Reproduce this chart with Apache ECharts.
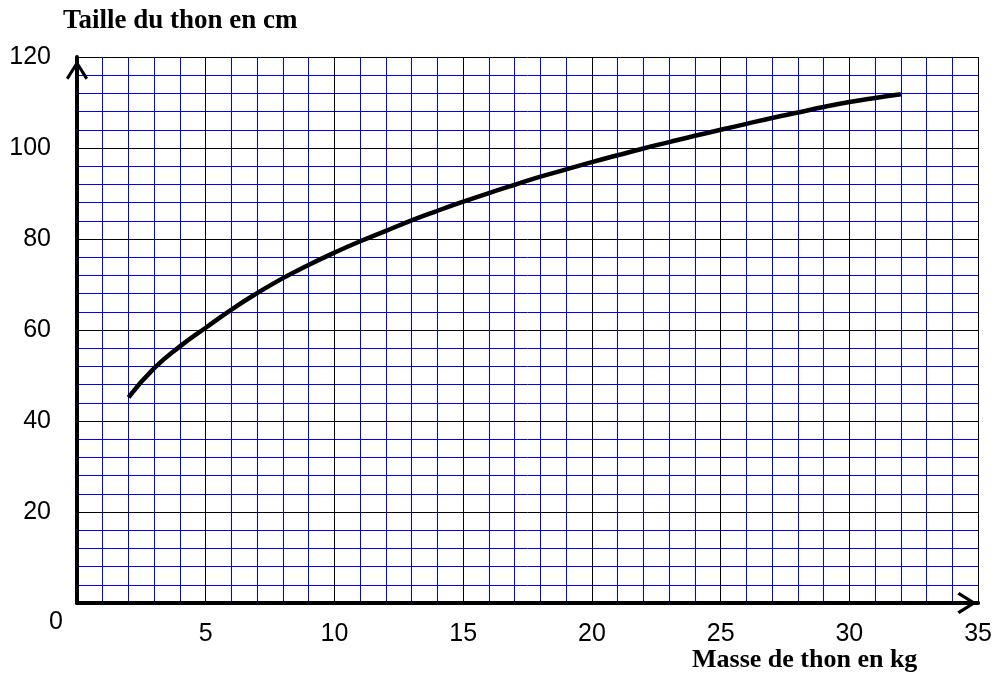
<!DOCTYPE html>
<html>
<head>
<meta charset="utf-8">
<script src="https://cdn.jsdelivr.net/npm/echarts@6/dist/echarts.min.js"></script>
<style>
  html, body { margin: 0; padding: 0; background: #fff; }
  #chart { width: 995px; height: 679px; }
</style>
</head>
<body>
<div id="chart"></div>
<script>
// masse du thon (kg) et taille (cm)
const masses = [2, 3, 4, 5, 6, 7, 8, 9, 10, 11, 12, 13, 14, 15, 16, 17, 18, 19, 20, 21, 22, 23, 24, 25, 26, 27, 28, 29, 30, 31, 32]
const tailles = [45.2, 51.6, 56.4, 60.5, 64.5, 68.1, 71.4, 74.3, 77.0, 79.5, 81.8, 84.1, 86.2, 88.2, 90.1, 91.9, 93.7, 95.3, 96.9, 98.4, 99.9, 101.3, 102.7, 104.0, 105.3, 106.6, 107.8, 109.0, 110.1, 111.0, 111.8]
const xTicks = [5, 10, 15, 20, 25, 30, 35]
const yTicks = [20, 40, 60, 80, 100, 120]

const chevron = 'path://M0,17.5 L11,0 L22,17.5 L19.6,19.6 L11,5.8 L2.4,19.6 Z'
const numFont = '25px "Liberation Sans", Arial, sans-serif'
// une ligne noire toutes les 5 lignes, les autres en bleu
const gridColors = ['#000000', '#0000ff', '#0000ff', '#0000ff', '#0000ff']

let points = []
for (let i = 0; i < masses.length; i++) {
  points.push([masses[i], tailles[i]])
}

const chart = echarts.init(document.getElementById('chart'))
const option = {
  animation: false,
  grid: { left: 77, right: 16, top: 57, bottom: 76 },
  xAxis: {
    type: 'value',
    min: 0,
    max: 35,
    interval: 1,
    axisLine: {
      show: true,
      symbol: ['none', chevron],
      symbolSize: [22, 22],
      symbolOffset: [0, -11],
      lineStyle: { color: '#000', width: 4 }
    },
    axisTick: { show: false },
    axisLabel: {
      margin: 19,
      fontSize: 25,
      fontFamily: '"Liberation Sans", Arial, sans-serif',
      color: '#000',
      hideOverlap: false,
      interval: 0,
      formatter: v => (xTicks.indexOf(v) >= 0 ? String(v) : '')
    },
    splitLine: { show: true, lineStyle: { color: gridColors, width: 1 } }
  },
  yAxis: {
    type: 'value',
    min: 0,
    max: 120,
    interval: 4,
    axisLine: {
      show: true,
      symbol: ['none', chevron],
      symbolSize: [22, 20],
      symbolOffset: [0, -13],
      lineStyle: { color: '#000', width: 4 }
    },
    axisTick: { show: false },
    axisLabel: {
      margin: 26,
      fontSize: 25,
      fontFamily: '"Liberation Sans", Arial, sans-serif',
      color: '#000',
      hideOverlap: false,
      interval: 0,
      formatter: v => (yTicks.indexOf(v) >= 0 ? String(v) : '')
    },
    splitLine: { show: true, lineStyle: { color: gridColors, width: 1 } }
  },
  graphic: [
    { type: 'text', x: 63, y: 8, style: { text: 'Taille du thon en cm', font: 'bold 27px "Liberation Serif", "Times New Roman", serif', fill: '#000' } },
    { type: 'text', x: 692, y: 647, style: { text: 'Masse de thon en kg', font: 'bold 26px "Liberation Serif", "Times New Roman", serif', fill: '#000' } },
    { type: 'text', x: 56, y: 622, style: { text: '0', font: numFont, fill: '#000', align: 'center', verticalAlign: 'middle' } }
  ],
  series: [{
    type: 'line',
    data: points,
    smooth: true,
    showSymbol: false,
    lineStyle: { color: '#000', width: 4.5, cap: 'butt' },
    z: 5
  }]
}
chart.setOption(option)
</script>
</body>
</html>
